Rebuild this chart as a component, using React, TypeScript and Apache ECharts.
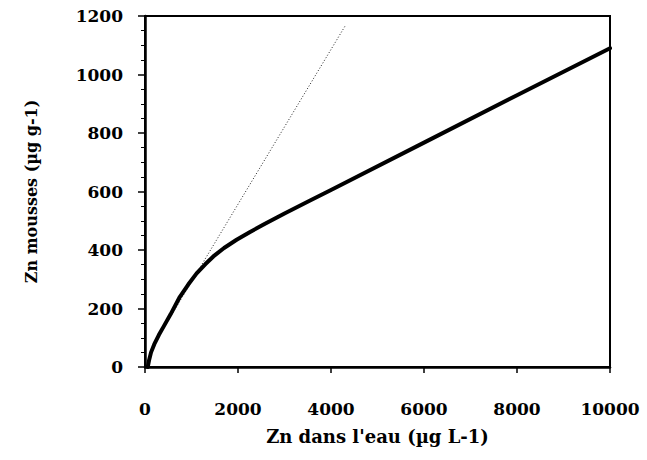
import React, { useEffect, useRef } from "react";
import * as echarts from "echarts";

// Zn in water (µg L-1) vs Zn in mosses (µg g-1)
const curveX = [60, 90, 130, 200, 300, 400, 550, 750, 930, 1110, 1300, 1470, 1700, 1970, 2250, 2540, 3000, 3550, 4000, 6000, 8000, 10000];
const curveY = [0, 25, 50, 78, 110, 138, 180, 240, 282, 320, 352, 378, 407, 435, 461, 486, 525, 569, 605, 767, 929, 1090];
const dottedX = [200, 4300];
const dottedY = [80, 1165];
const yTicks = [0, 200, 400, 600, 800, 1000, 1200];
const xTicks = [0, 2000, 4000, 6000, 8000, 10000];

export default function App() {
  const ref = useRef<HTMLDivElement>(null);
  useEffect(() => {
    if (!ref.current) return;
    const chart = echarts.init(ref.current, null, { renderer: "svg" });
    const font = "DejaVu Serif";
    chart.setOption({
      animation: false,
      backgroundColor: "#ffffff",
      grid: {
        left: 145,
        right: 37,
        top: 16,
        bottom: 93,
        show: true,
        borderColor: "#000",
        borderWidth: 2,
      },
      xAxis: {
        type: "value",
        min: xTicks[0],
        max: xTicks[xTicks.length - 1],
        interval: 2000,
        name: "Zn dans l'eau (µg L-1)",
        nameLocation: "middle",
        nameGap: 60,
        nameTextStyle: { fontFamily: font, fontWeight: "bold", fontSize: 18, color: "#000" },
        axisLine: { show: true, onZero: false, lineStyle: { color: "#000", width: 2.5 } },
        axisTick: { show: true, length: 6, lineStyle: { color: "#000", width: 1.5 } },
        axisLabel: {
          margin: 33,
          fontFamily: font,
          fontWeight: "bold",
          fontSize: 17,
          color: "#000",
          formatter: (v: number) => String(v),
        },
        splitLine: { show: false },
      },
      yAxis: {
        type: "value",
        min: yTicks[0],
        max: yTicks[yTicks.length - 1],
        interval: 200,
        name: "Zn mousses (µg g-1)",
        nameLocation: "middle",
        nameGap: 106,
        nameTextStyle: { fontFamily: font, fontWeight: "bold", fontSize: 16, color: "#000" },
        axisLine: { show: true, onZero: false, lineStyle: { color: "#000", width: 2.5 } },
        axisTick: { show: true, length: 7, lineStyle: { color: "#000", width: 1.5 } },
        minorTick: { show: true, splitNumber: 4, length: 4, lineStyle: { color: "#000", width: 1 } },
        axisLabel: {
          margin: 22,
          fontFamily: font,
          fontWeight: "bold",
          fontSize: 17,
          color: "#000",
          formatter: (v: number) => String(v),
        },
        splitLine: { show: false },
      },
      series: [
        {
          type: "line",
          data: dottedX.map((x, i) => [x, dottedY[i]]),
          showSymbol: false,
          lineStyle: { color: "#222", width: 1, type: [1, 2] },
          z: 1,
        },
        {
          type: "line",
          data: curveX.map((x, i) => [x, curveY[i]]),
          smooth: false,
          showSymbol: false,
          lineStyle: { color: "#000", width: 4, join: "round", cap: "round" },
          z: 2,
        },
      ],
    });
    return () => chart.dispose();
  }, []);
  return <div ref={ref} style={{ width: 647, height: 460, position: "absolute", left: 0, top: 0 }} />;
}
